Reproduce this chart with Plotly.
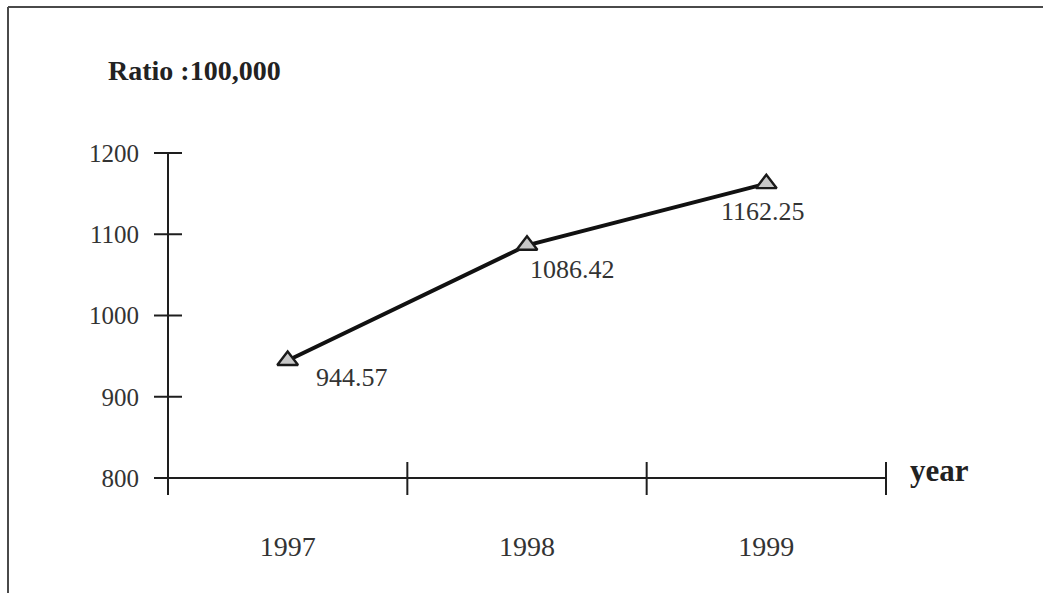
import plotly.graph_objects as go

# Data
years = ["1997", "1998", "1999"]
ratio = [944.57, 1086.42, 1162.25]
y_ticks = [800, 900, 1000, 1100, 1200]

# Figure geometry (pixels)
W, H = 1043, 593
L, R, T, B = 150, 900, 140, 500          # plot-area edges
X_RANGE = [-0.5752, 2.5585]
Y_RANGE = [772.92, 1216.0]
px_x = (R - L) / (X_RANGE[1] - X_RANGE[0])
px_y = (B - T) / (Y_RANGE[1] - Y_RANGE[0])

FONT = "Liberation Serif"
TXT = "#333333"
AX = "#1e1e1e"


def px(x):
    return (x - L) / (R - L)


def py(y):
    return (B - y) / (B - T)


xs = list(range(len(years)))
fig = go.Figure()
fig.add_trace(go.Scatter(
    x=xs, y=ratio, mode="lines+markers",
    line=dict(color="#111111", width=4),
    marker=dict(symbol="triangle-up", size=18, color="#c8c8c8",
                line=dict(color="#1a1a1a", width=2.4)),
    showlegend=False, hoverinfo="skip",
))

shapes = []
line_style = dict(color=AX, width=2)
y0, y1 = y_ticks[0], y_ticks[-1]
x_left, x_right = -0.5, len(years) - 0.5
hx = 14 / px_x           # half-length of y ticks in x units
hy_dn, hy_up = 17 / px_y, 16 / px_y

# y axis
shapes.append(dict(type="line", xref="x", yref="y", x0=x_left, x1=x_left,
                   y0=y0 - hy_dn, y1=y1, line=line_style))
for v in y_ticks:
    shapes.append(dict(type="line", xref="x", yref="y",
                       x0=x_left - hx, x1=x_left + (hx if v != y0 else 0),
                       y0=v, y1=v, line=line_style))
# x axis
shapes.append(dict(type="line", xref="x", yref="y", x0=x_left - hx, x1=x_right,
                   y0=y0, y1=y0, line=line_style))
for k in range(len(years) + 1):
    xv = x_left + k
    shapes.append(dict(type="line", xref="x", yref="y", x0=xv, x1=xv,
                       y0=y0 - hy_dn, y1=y0 + hy_up, line=line_style))

# frame lines (top and left)
frame = dict(color="#4a4a4a", width=2)
shapes.append(dict(type="line", xref="paper", yref="paper",
                   x0=px(8), x1=px(W), y0=py(7), y1=py(7), line=frame))
shapes.append(dict(type="line", xref="paper", yref="paper",
                   x0=px(8), x1=px(8), y0=py(7), y1=py(H), line=frame))

annotations = []
# value labels
label_pos = [("left", 26, -17), ("left", 1, -24), ("center", -3, -28)]
for xv, v, (anc, dx, dy) in zip(xs, ratio, label_pos):
    annotations.append(dict(x=xv, y=v, xref="x", yref="y", text=f"{v:.2f}",
                            showarrow=False, xanchor=anc, yanchor="middle",
                            xshift=dx, yshift=dy,
                            font=dict(family=FONT, size=26, color=TXT)))
annotations.append(dict(x=px(106), y=py(70), xref="paper", yref="paper",
                        text="<b>Ratio :100,000</b>", showarrow=False,
                        xanchor="left", yanchor="middle",
                        font=dict(family=FONT, size=28, color="#222222")))
annotations.append(dict(x=px(908), y=py(470), xref="paper", yref="paper",
                        text="<b>year</b>", showarrow=False,
                        xanchor="left", yanchor="middle",
                        font=dict(family=FONT, size=31, color="#222222")))

fig.update_layout(
    width=W, height=H,
    margin=dict(l=L, r=W - R, t=T, b=H - B),
    paper_bgcolor="white", plot_bgcolor="white",
    shapes=shapes, annotations=annotations,
    xaxis=dict(range=X_RANGE, tickvals=xs, ticktext=years, showgrid=False,
               zeroline=False, showline=False, ticks="",
               ticklabelstandoff=27,
               tickfont=dict(family=FONT, size=28, color=TXT)),
    yaxis=dict(range=Y_RANGE, tickvals=y_ticks, showgrid=False,
               zeroline=False, showline=False, ticks="",
               ticklabelstandoff=10,
               tickfont=dict(family=FONT, size=25, color=TXT)),
)

fig.write_html("out.html")
